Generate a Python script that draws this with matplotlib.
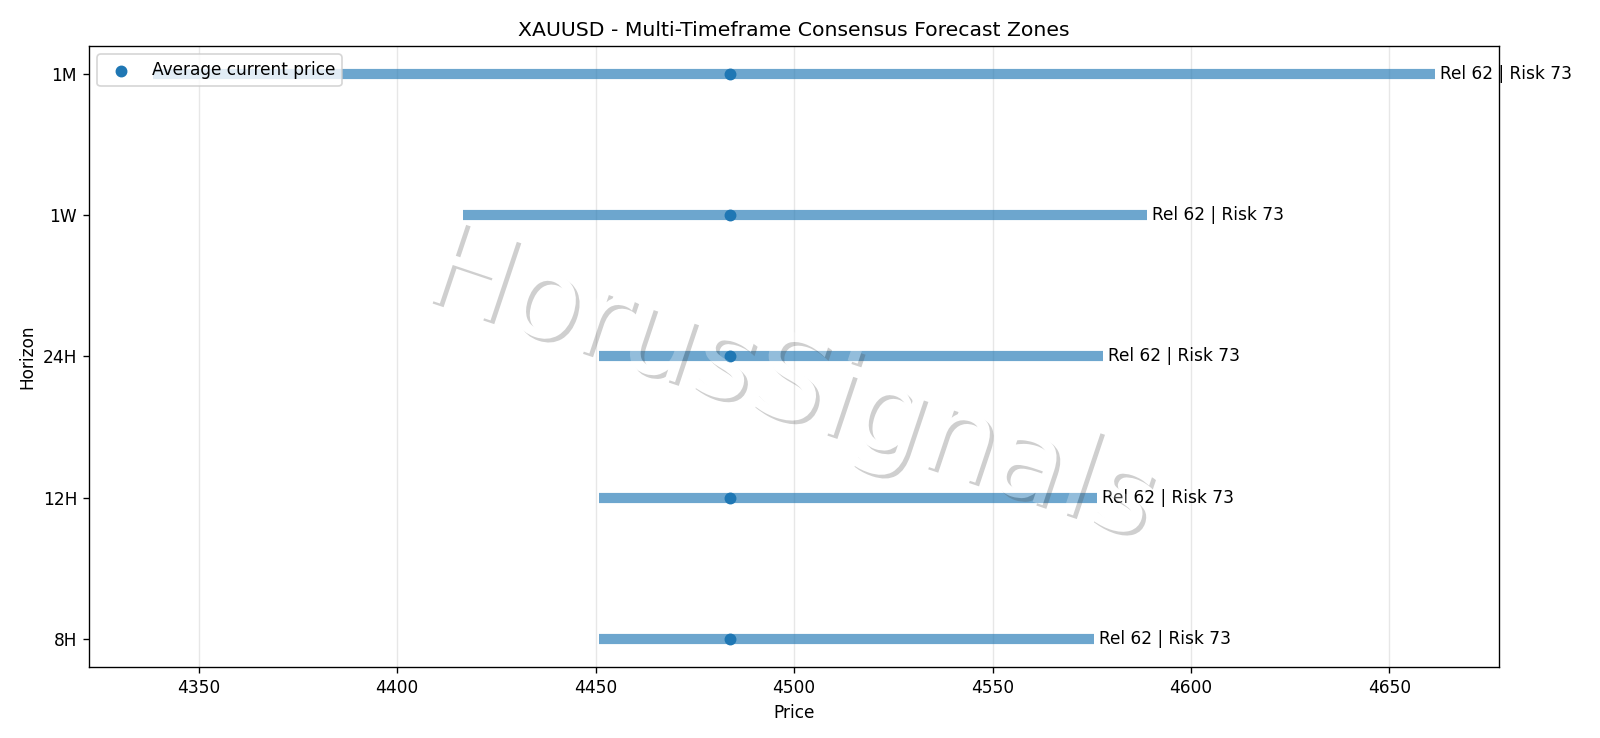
import matplotlib.pyplot as plt
import matplotlib.patheffects as pe

# Forecast zones per horizon
horizons = ['8H', '12H', '24H', '1W', '1M']
zone_low = [4450.8, 4450.8, 4450.8, 4416.5, 4338.5]
zone_high = [4575.5, 4576.3, 4577.8, 4588.8, 4661.5]
current_price = [4483.8, 4483.8, 4483.8, 4483.8, 4483.8]
reliability = [62, 62, 62, 62, 62]
risk = [73, 73, 73, 73, 73]

DPI = 122
fig, ax = plt.subplots(figsize=(1600 / DPI, 738 / DPI), dpi=DPI)
fig.subplots_adjust(left=0.0556, right=0.937, top=0.9377, bottom=0.0962)

y = list(range(len(horizons)))
ax.hlines(y, zone_low, zone_high, linewidth=6, color='tab:blue', alpha=0.65)
ax.scatter(current_price, y, color='tab:blue', zorder=3, label='Average current price')

for i in y:
    ax.annotate(f"Rel {reliability[i]} | Risk {risk[i]}", (zone_high[i], i),
                xytext=(3, 0), textcoords='offset points', va='center', fontsize=10)

ax.set_yticks(y)
ax.set_yticklabels(horizons)
ax.set_xlabel('Price')
ax.set_ylabel('Horizon')
ax.set_title('XAUUSD - Multi-Timeframe Consensus Forecast Zones')
ax.grid(True, axis='x', alpha=0.3)
ax.legend(loc='upper left')


# watermark: white text + dark shadow drawn as one layer, then faded as a group
def fade(img, dpi):
    out = img.copy()
    out[..., 3] *= 0.27
    return out, 0, 0


wm = ax.text(0.497, 0.452, 'HorusSignals', transform=ax.transAxes, fontsize=69,
             color='white', rotation=-18.5, ha='center', va='center', zorder=10,
             path_effects=[pe.withSimplePatchShadow(offset=(2.2, -2.2),
                                                    shadow_rgbFace='0.3', alpha=1.0)])
wm.set_agg_filter(fade)

plt.savefig('out.png', dpi=DPI)
